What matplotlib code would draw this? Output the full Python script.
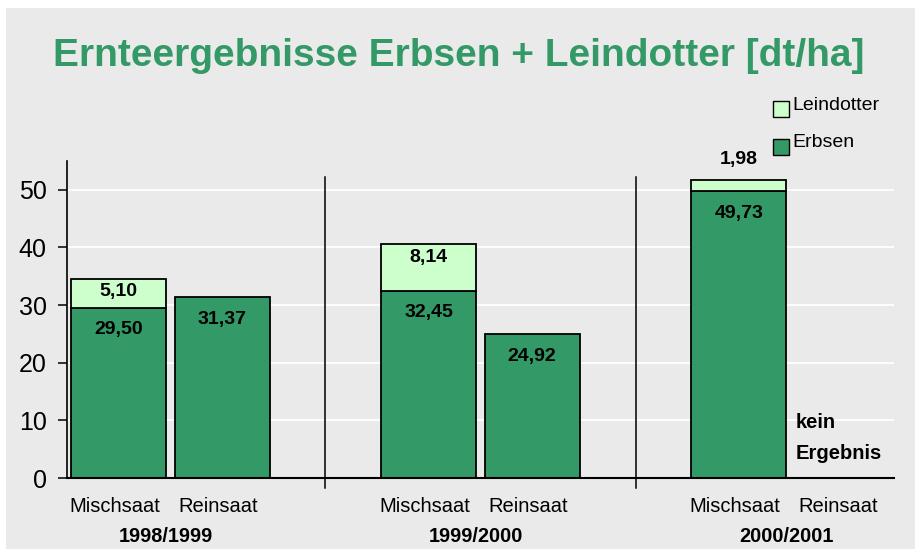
import numpy as np
import matplotlib
matplotlib.use("Agg")
import matplotlib.pyplot as plt
from matplotlib.patches import Rectangle
from matplotlib import transforms

plt.rcParams['font.family'] = ['Liberation Sans', 'DejaVu Sans']

# ---- data ----
years = ["1998/1999", "1999/2000", "2000/2001"]
variants = ["Mischsaat", "Reinsaat"]
erbsen = [[29.50, 31.37], [32.45, 24.92], [49.73, np.nan]]
leindotter = [[5.10, 0.0], [8.14, 0.0], [1.98, 0.0]]
erbsen_labels = [["29,50", "31,37"], ["32,45", "24,92"], ["49,73", None]]
leindotter_labels = [["5,10", None], ["8,14", None], ["1,98", None]]
no_result_lines = ["kein", "Ergebnis"]
title = "Ernteergebnisse Erbsen + Leindotter [dt/ha]"
legend_names = ["Leindotter", "Erbsen"]
yticks = [0, 10, 20, 30, 40, 50]

DARK = "#339966"
LIGHT = "#CCFFCC"
BG = "#EAEAEA"

W, H = 915, 549
fig = plt.figure(figsize=(W / 100, H / 100), dpi=100)
fig.patch.set_facecolor("white")

def fx(px):
    return px / W

def fy(py):
    return 1 - py / H

fig.patches.append(Rectangle((fx(6), -0.05), 1.1, fy(8) + 0.05, transform=fig.transFigure,
                             facecolor=BG, edgecolor="none", zorder=-5))

ax = fig.add_axes([fx(67), fy(478), fx(894) - fx(67), fy(161) - fy(478)])
ax.set_zorder(2)
ax.set_facecolor("none")
ax.set_xlim(-0.5, 7.5)
ax.set_ylim(0, 55)

bw = 0.92
for g in range(len(years)):
    for k in range(len(variants)):
        pos = g * 3 + k
        e = erbsen[g][k]
        if np.isnan(e):
            continue
        l = leindotter[g][k]
        ax.bar(pos, e, width=bw, color=DARK, edgecolor="black", linewidth=1.3, zorder=3)
        if l > 0:
            ax.bar(pos, l, bottom=e, width=bw, color=LIGHT, edgecolor="black",
                   linewidth=1.3, zorder=3)
        if erbsen_labels[g][k]:
            ax.text(pos, e - 3.8, erbsen_labels[g][k], ha="center", va="center",
                    fontsize=14, fontweight="bold", zorder=5)
        if leindotter_labels[g][k]:
            if l < 4:
                ly = e + l + 3.5
            else:
                ly = e + l - 2.3
            ax.text(pos, ly, leindotter_labels[g][k], ha="center", va="center",
                    fontsize=14, fontweight="bold", zorder=5, clip_on=False)

# kein Ergebnis
for txt, yv in zip(no_result_lines, [9.55, 4.3]):
    ax.text(7 - bw / 2 + 0.005, yv, txt, ha="left", va="center",
            fontsize=14.5, fontweight="bold")

# separators
for xs in [2, 5]:
    ax.plot([xs, xs], [-1.7, 52.3], color="black", lw=1.1, clip_on=False, zorder=4)

# grid
for yv in yticks[1:]:
    ax.axhline(yv, color="white", lw=1.3, zorder=1)

for s in ["top", "right"]:
    ax.spines[s].set_visible(False)
ax.spines["left"].set_color("black")
ax.spines["left"].set_linewidth(1.2)
ax.spines["bottom"].set_color("black")
ax.spines["bottom"].set_linewidth(1.5)
ax.spines["bottom"].set_zorder(6)

ax.set_yticks(yticks)
ax.set_yticklabels([str(v) for v in yticks])
ax.tick_params(axis="y", length=6.5, width=1.1, labelsize=18, pad=8, direction="out")
ax.set_xticks([])

# x labels
trans = transforms.blended_transform_factory(ax.transData, fig.transFigure)
for g, yr in enumerate(years):
    for k, v in enumerate(variants):
        pos = g * 3 + k
        ax.text(pos - 0.04, fy(507), v, transform=trans, ha="center", va="center",
                fontsize=14.5)
    ax.text(g * 3 + 0.5 - 0.04, fy(536), yr, transform=trans, ha="center", va="center",
            fontsize=14.3, fontweight="bold")

# title
fig.text(fx(459), fy(56), title, ha="center", va="center", fontsize=28,
         fontweight="bold", color=DARK)

# legend
for i, (name, col) in enumerate(zip(legend_names, [LIGHT, DARK])):
    top = [101, 139][i]
    fig.patches.append(Rectangle((fx(773), fy(top + 16)), fx(16), 16 / H,
                                 transform=fig.transFigure, facecolor=col,
                                 edgecolor="black", linewidth=1.0, zorder=5))
    fig.text(fx(792), fy([105, 143][i]), name, ha="left", va="center", fontsize=14)

fig.savefig("out.png", dpi=100, facecolor=fig.get_facecolor())
